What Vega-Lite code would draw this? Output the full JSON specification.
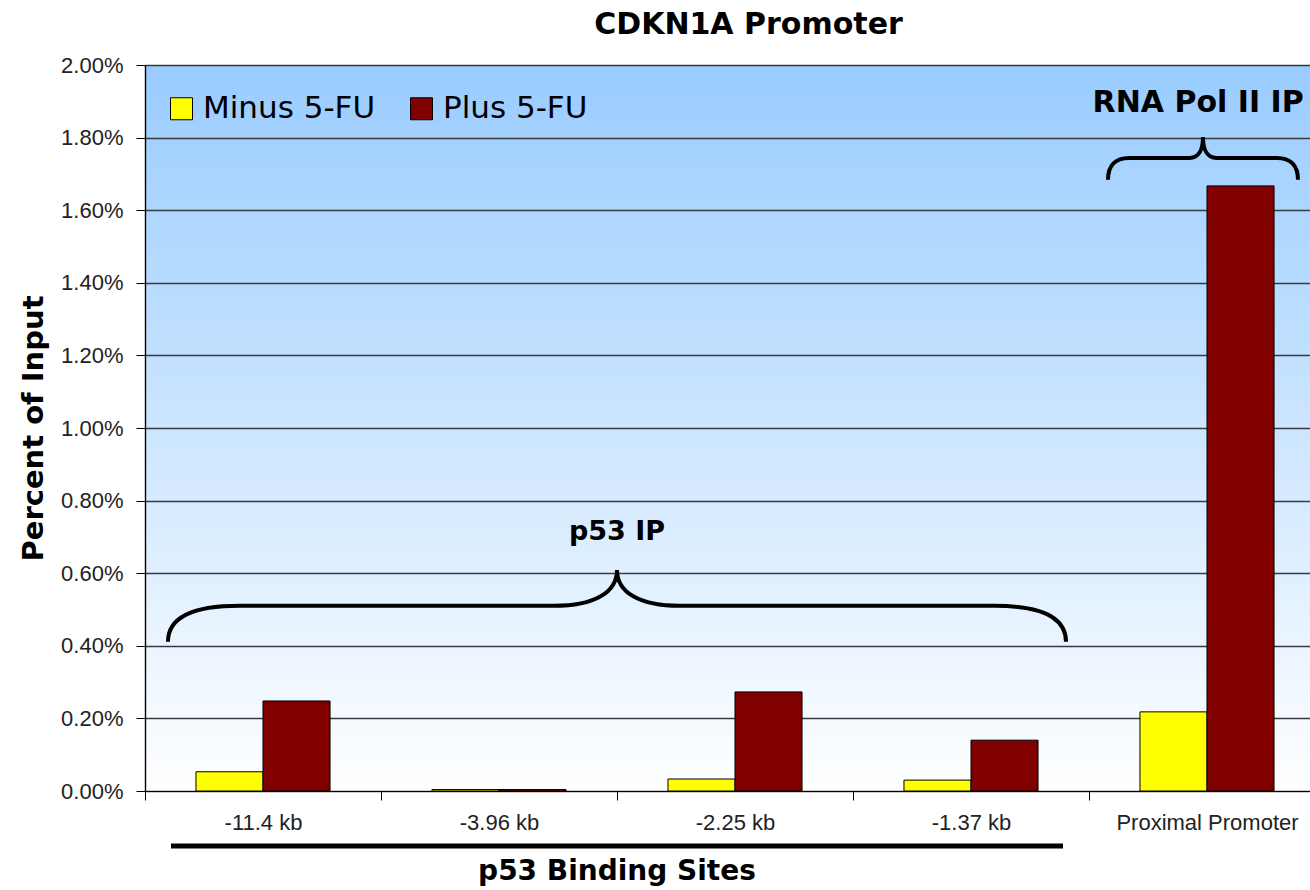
{
  "$schema": "https://vega.github.io/schema/vega-lite/v6.json",
  "width": 1165,
  "height": 726,
  "autosize": {"type": "none"},
  "padding": {"left": 145, "top": 65, "right": 0, "bottom": 99},
  "background": "white",
  "title": {
    "text": "CDKN1A Promoter",
    "font": "DejaVu Sans",
    "fontSize": 30,
    "fontWeight": "bold",
    "color": "black",
    "dx": 21,
    "offset": 14
  },
  "config": {
    "view": {
      "fill": {
        "gradient": "linear",
        "x1": 0, "y1": 0, "x2": 0, "y2": 1,
        "stops": [
          {"offset": 0, "color": "#99CCFF"},
          {"offset": 1, "color": "#FFFFFF"}
        ]
      },
      "stroke": null
    }
  },
  "layer": [
    {
      "data": {
        "values": [
          {"site": "-11.4 kb", "treatment": "Minus 5-FU", "value": 0.00053},
          {"site": "-11.4 kb", "treatment": "Plus 5-FU", "value": 0.00248},
          {"site": "-3.96 kb", "treatment": "Minus 5-FU", "value": 0.00004},
          {"site": "-3.96 kb", "treatment": "Plus 5-FU", "value": 0.00004},
          {"site": "-2.25 kb", "treatment": "Minus 5-FU", "value": 0.00033},
          {"site": "-2.25 kb", "treatment": "Plus 5-FU", "value": 0.00273},
          {"site": "-1.37 kb", "treatment": "Minus 5-FU", "value": 0.0003},
          {"site": "-1.37 kb", "treatment": "Plus 5-FU", "value": 0.0014},
          {"site": "Proximal Promoter", "treatment": "Minus 5-FU", "value": 0.00218},
          {"site": "Proximal Promoter", "treatment": "Plus 5-FU", "value": 0.01667}
        ]
      },
      "mark": {"type": "bar", "stroke": "black", "strokeWidth": 1},
      "encoding": {
        "x": {
          "field": "site",
          "type": "nominal",
          "scale": {
            "domain": ["-11.4 kb", "-3.96 kb", "-2.25 kb", "-1.37 kb", "Proximal Promoter"],
            "range": [0, 1180],
            "paddingInner": 0,
            "paddingOuter": 0
          },
          "axis": {
            "title": null,
            "grid": false,
            "domainColor": "black",
            "domainWidth": 1,
            "tickColor": "black",
            "tickSize": 9,
            "tickBand": "extent",
            "labelAngle": 0,
            "labelFont": "Liberation Sans",
            "labelFontSize": 22,
            "labelColor": "#222222",
            "labelPadding": 12,
            "labelLimit": 400
          }
        },
        "xOffset": {
          "field": "treatment",
          "type": "nominal",
          "scale": {"domain": ["Minus 5-FU", "Plus 5-FU"], "paddingInner": 0, "paddingOuter": 0.76}
        },
        "y": {
          "field": "value",
          "type": "quantitative",
          "scale": {"domain": [0, 0.02], "nice": false},
          "axis": {
            "title": "Percent of Input",
            "titleFont": "DejaVu Sans",
            "titleFontSize": 29,
            "titleFontWeight": "bold",
            "titleColor": "black",
            "titlePadding": 12,
            "format": ".2%",
            "values": [0, 0.002, 0.004, 0.006, 0.008, 0.01, 0.012, 0.014, 0.016, 0.018, 0.02],
            "grid": true,
            "gridColor": "#3a3a3a",
            "gridWidth": 1.4,
            "gridOpacity": 1,
            "domainColor": "black",
            "domainWidth": 1.4,
            "tickColor": "black",
            "tickSize": 9,
            "labelFont": "Liberation Sans",
            "labelFontSize": 22,
            "labelColor": "#222222",
            "labelPadding": 13
          }
        },
        "color": {
          "field": "treatment",
          "type": "nominal",
          "scale": {"domain": ["Minus 5-FU", "Plus 5-FU"], "range": ["#FFFF00", "#800000"]},
          "legend": {
            "title": null,
            "orient": "none",
            "legendX": 21,
            "legendY": 28,
            "direction": "horizontal",
            "symbolType": "square",
            "symbolSize": 484,
            "symbolStrokeColor": "black",
            "symbolStrokeWidth": 1,
            "symbolOpacity": 1,
            "labelFont": "DejaVu Sans",
            "labelFontSize": 31,
            "labelColor": "black",
            "labelOffset": 6,
            "labelLimit": 400,
            "columnPadding": 30,
            "padding": 0
          }
        }
      }
    },
    {
      "data": {"values": [{"site": "-2.25 kb", "y": 0.0051}]},
      "mark": {
        "type": "point",
        "shape": "M -1 0.08 C -1 0.02 -0.93 0 -0.84 0 L -0.14 0 C -0.05 0 0 -0.03 0 -0.08 C 0 -0.03 0.05 0 0.14 0 L 0.84 0 C 0.93 0 1 0.02 1 0.08",
        "size": 806404,
        "filled": false,
        "stroke": "black",
        "strokeWidth": 4,
        "opacity": 1
      },
      "encoding": {
        "x": {"field": "site", "type": "nominal", "bandPosition": 0},
        "y": {"field": "y", "type": "quantitative"}
      }
    },
    {
      "data": {"values": [{"site": "Proximal Promoter", "y": 0.01744}]},
      "mark": {
        "type": "point",
        "shape": "M -1 0.23 C -1 0.08 -0.92 0 -0.78 0 L -0.14 0 C -0.05 0 0 -0.08 0 -0.22 C 0 -0.08 0.05 0 0.14 0 L 0.78 0 C 0.92 0 1 0.08 1 0.23",
        "size": 36100,
        "filled": false,
        "stroke": "black",
        "strokeWidth": 4,
        "opacity": 1
      },
      "encoding": {
        "x": {"field": "site", "type": "nominal", "bandPosition": 0.483},
        "y": {"field": "y", "type": "quantitative"}
      }
    },
    {
      "data": {"values": [{"site": "-2.25 kb", "y": -0.001515}]},
      "mark": {
        "type": "point",
        "shape": "M -1 0 L 1 0",
        "size": 795664,
        "filled": false,
        "stroke": "black",
        "strokeWidth": 5,
        "opacity": 1
      },
      "encoding": {
        "x": {"field": "site", "type": "nominal", "bandPosition": 0},
        "y": {"field": "y", "type": "quantitative"}
      }
    },
    {
      "data": {"values": [{"site": "-2.25 kb", "y": 0.00713, "label": "p53 IP"}]},
      "mark": {"type": "text", "font": "DejaVu Sans", "fontSize": 27, "fontWeight": "bold", "color": "black", "align": "center", "baseline": "middle"},
      "encoding": {
        "x": {"field": "site", "type": "nominal", "bandPosition": 0},
        "y": {"field": "y", "type": "quantitative"},
        "text": {"field": "label"}
      }
    },
    {
      "data": {"values": [{"site": "Proximal Promoter", "y": 0.01895, "label": "RNA Pol II IP"}]},
      "mark": {"type": "text", "font": "DejaVu Sans", "fontSize": 30, "fontWeight": "bold", "color": "black", "align": "left", "baseline": "middle"},
      "encoding": {
        "x": {"field": "site", "type": "nominal", "bandPosition": 0.015},
        "y": {"field": "y", "type": "quantitative"},
        "text": {"field": "label"}
      }
    },
    {
      "data": {"values": [{"site": "-2.25 kb", "y": -0.00223, "label": "p53 Binding Sites"}]},
      "mark": {"type": "text", "font": "DejaVu Sans", "fontSize": 28, "fontWeight": "bold", "color": "black", "align": "center", "baseline": "middle"},
      "encoding": {
        "x": {"field": "site", "type": "nominal", "bandPosition": 0},
        "y": {"field": "y", "type": "quantitative"},
        "text": {"field": "label"}
      }
    }
  ]
}
